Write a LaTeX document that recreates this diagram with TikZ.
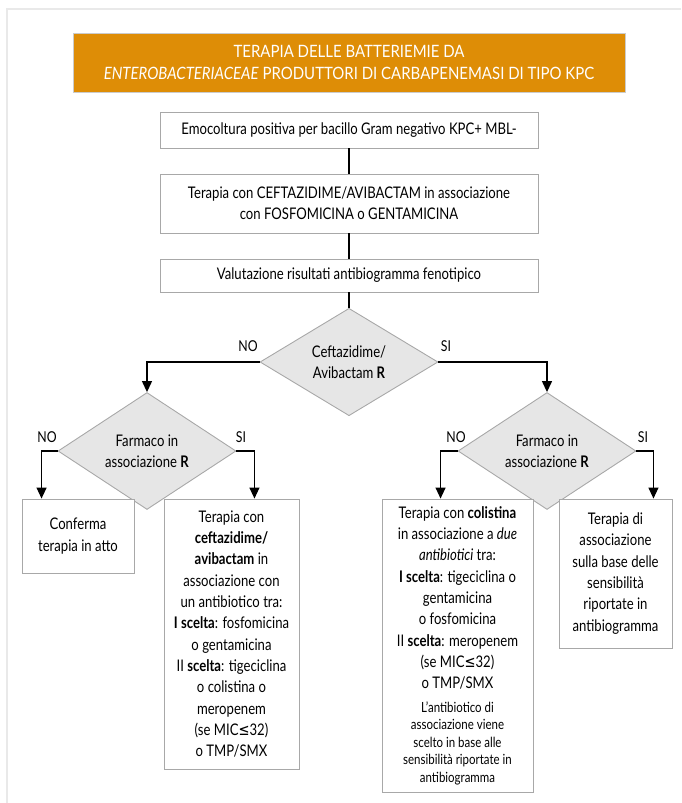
\documentclass[tikz,border=0pt]{standalone}
\usepackage{fontspec}
\setmainfont{Lato}[FakeStretch=0.82]
\newfontfamily\titlefont{Lato}[FakeStretch=0.88]
\newfontfamily\symfont{DejaVu Sans}[FakeStretch=0.82]
\usetikzlibrary{shapes.geometric,arrows.meta,calc}
\definecolor{titleorange}{HTML}{DE8D06}
\definecolor{boxgray}{HTML}{A8A8A8}
\definecolor{diafill}{HTML}{E6E6E6}
\definecolor{framegray}{HTML}{E9E9E9}
\newcommand{\leqsym}{{\symfont ≤}}
\tikzset{
  mainfont/.style={font=\fontsize{16}{21.3}\selectfont},
  titlebox/.style={draw=boxgray!60, line width=1pt, fill=titleorange, text=white,
    align=center, inner sep=0pt, font=\titlefont\fontsize{17}{22}\selectfont},
  stepbox/.style={draw=boxgray, line width=0.9pt, fill=white, align=center,
    inner sep=0pt, mainfont},
  decision/.style={shape=diamond, draw=boxgray, line width=0.9pt, fill=diafill,
    align=center, inner sep=0pt, minimum width=178pt, minimum height=80pt, mainfont},
  link/.style={draw=black, line width=1.2pt},
  arrow/.style={link, -{Triangle[length=11pt,width=10pt]}},
  lab/.style={font=\fontsize{15}{16}\selectfont, inner sep=0pt},
  frameline/.style={draw=framegray, line width=2.5pt}
}
\begin{document}
\begin{tikzpicture}[x=1pt,y=-1pt]
\useasboundingbox (0,0) rectangle (681,803);
% outer frame
\draw[frameline] (6,9) -- (681,9);
\draw[frameline] (7,8) -- (7,803);

% title banner
\node[titlebox, minimum width=552pt, minimum height=59pt] (title) at (349,62.5)
  {TERAPIA DELLE BATTERIEMIE DA\\
   \textit{ENTEROBACTERIACEAE} PRODUTTORI DI CARBAPENEMASI DI TIPO KPC};

% main sequence
\node[stepbox, minimum width=378pt, minimum height=36pt] (s1) at (349,130)
  {Emocoltura positiva per bacillo Gram negativo KPC+ MBL-};
\node[stepbox, minimum width=378pt, minimum height=59pt] (s2) at (349,203.5)
  {Terapia con CEFTAZIDIME/AVIBACTAM in associazione\\con FOSFOMICINA o GENTAMICINA};
\node[stepbox, minimum width=378pt, minimum height=33pt] (s3) at (349,275.5)
  {Valutazione risultati antibiogramma fenotipico};

% decisions
\node[decision] (d1) at (349,362) {Ceftazidime/\\Avibactam \textbf{R}};
\node[decision] (d2) at (147,451) {Farmaco in\\associazione \textbf{R}};
\node[decision] (d3) at (547,451) {Farmaco in\\associazione \textbf{R}};

% outcomes
\node[stepbox, minimum width=112pt, minimum height=74pt] (conf) at (78,536)
  {Conferma\\terapia in atto};
\node[stepbox, minimum width=135pt, minimum height=270pt] (lbig) at (231.5,634)
  {Terapia con\\\textbf{ceftazidime/}\\\textbf{avibactam} in\\associazione con\\
   un antibiotico tra:\\\textbf{I scelta}: fosfomicina\\o gentamicina\\
   II \textbf{scelta}: tigeciclina\\o colistina o\\meropenem\\
   (se MIC\leqsym32)\\o TMP/SMX};
\node[stepbox, minimum width=151pt, minimum height=293pt] (col) at (457.5,645.5)
  {Terapia con \textbf{colistina}\\in associazione a \textit{due}\\\textit{antibiotici} tra:\\
   \textbf{I scelta}: tigeciclina o\\gentamicina\\o fosfomicina\\
   II \textbf{scelta}: meropenem\\(se MIC\leqsym32)\\o TMP/SMX\\[2pt]
   \parbox[t]{150pt}{\centering\fontsize{14}{17.5}\selectfont
     L’antibiotico di\\associazione viene\\scelto in base alle\\
     sensibilità riportate in\\antibiogramma}};
\node[stepbox, minimum width=113pt, minimum height=149pt] (rbox) at (615.5,573.5)
  {Terapia di\\associazione\\sulla base delle\\sensibilità\\riportate in\\antibiogramma};

% connectors
\draw[link] (s1) -- (s2);
\draw[link] (s2) -- (s3);
\draw[link] (s3) -- (d1);
\draw[arrow] (d1.west) -| (d2.north);
\draw[arrow] (d1.east) -| (d3.north);
\draw[arrow] (d2.west) -| ([xshift=20pt]conf.north west);
\draw[arrow] (d2.east) -| ([xshift=-45pt]lbig.north east);
\draw[arrow] (d3.west) -| ([xshift=59pt]col.north west);
\draw[arrow] (d3.east) -| ([xshift=-19pt]rbox.north east);

% branch labels
\node[lab] (l1) at (248,346) {NO};
\node[lab] (l2) at (446,346) {SI};
\node[lab] (l3) at (47,437) {NO};
\node[lab] (l4) at (241,437) {SI};
\node[lab] (l5) at (456,437) {NO};
\node[lab] (l6) at (643,437) {SI};
\end{tikzpicture}
\end{document}
